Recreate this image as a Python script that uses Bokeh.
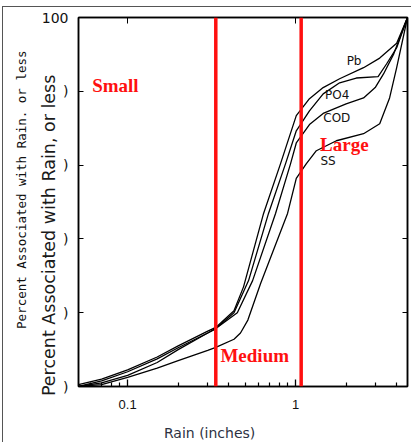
from bokeh.plotting import figure
from bokeh.models import Range1d, FixedTicker, LinearAxis, LogAxis, Label, Span, Title
from bokeh.embed import file_html
from bokeh.resources import INLINE

# ---- data ----
pb_x = [0.051, 0.07, 0.1, 0.15, 0.2, 0.3, 0.335, 0.43, 0.49, 0.645, 0.814, 1.01, 1.21, 1.46, 1.83, 2.54, 3.17, 4.0, 4.64]
pb_y = [0.5, 2, 4.5, 8, 11, 15, 16, 20.5, 27, 46.9, 60.4, 73.4, 78, 81, 83.4, 86.4, 89, 93, 100]

po4_x = [0.051, 0.07, 0.1, 0.15, 0.2, 0.3, 0.335, 0.43, 0.525, 0.69, 0.872, 1.01, 1.21, 1.46, 1.83, 2.3, 3.1, 3.48, 4.0, 4.64]
po4_y = [0, 1.5, 4, 7.5, 10.5, 14.5, 15.7, 20, 28.7, 46.9, 60.4, 69.3, 74.7, 79.3, 82.3, 83.6, 84, 87.4, 91.8, 100]

cod_x = [0.051, 0.07, 0.1, 0.15, 0.2, 0.3, 0.335, 0.45, 0.555, 0.76, 0.934, 1.01, 1.21, 1.46, 2.0, 2.54, 2.98, 3.34, 3.83, 4.64]
cod_y = [0, 1, 3, 6.5, 10, 14.5, 15.7, 20, 28.7, 46.9, 60.4, 66, 71, 74, 76.6, 78.2, 81, 84.7, 90, 100]

ss_x = [0.051, 0.07, 0.1, 0.15, 0.2, 0.3, 0.335, 0.43, 0.47, 0.52, 0.62, 0.896, 1.01, 1.16, 1.33, 1.75, 2.54, 3.17, 3.63, 4.0, 4.64]
ss_y = [0, 0.5, 2.5, 5, 7, 9.8, 10.6, 12.8, 14.5, 18, 28, 46.9, 56.4, 60.4, 63.9, 66.6, 68.5, 71.2, 78.2, 86.4, 100]

series_names = ["Pb", "PO4", "COD", "SS"]
name_pos_x = [2.23, 1.77, 1.76, 1.56]
name_pos_y = [88.2, 79, 72.7, 61]

class_limits = [0.335, 1.08]          # red dividing lines (inches)
class_names = ["Small", "Medium", "Large"]

x_major = [0.1, 1]
x_major_labels = ["0.1", "1"]
x_minor = [0.06, 0.07, 0.08, 0.09, 0.2, 0.3, 0.4, 0.5, 0.6, 0.7, 0.8, 0.9, 2, 3, 4]
y_ticks = [0, 20, 40, 60, 80, 100]
y_tick_labels = [")", ")", ")", ")", ")", "100"]

W, H = 409, 436
p = figure(width=W, height=H, x_axis_type="log",
           x_range=Range1d(0.051, 4.64), y_range=Range1d(0, 100),
           output_backend="svg", toolbar_location=None,
           min_border_left=75, min_border_right=5, min_border_top=10, min_border_bottom=57)
# frame of the scanned picture
p.styles = {"margin-left": "2px", "margin-top": "6px",
            "border-left": "1px solid #555555", "border-top": "1px solid #555555"}
p.grid.visible = False
p.background_fill_color = "white"
p.border_fill_color = "white"
p.outline_line_color = "black"
p.outline_line_width = 1.5

# bottom axis
xa = p.xaxis[0]
xa.ticker = FixedTicker(ticks=x_major, minor_ticks=x_minor)
xa.major_label_overrides = {t: s for t, s in zip(x_major, x_major_labels)}
xa.major_tick_in = 7
xa.major_tick_out = 0
xa.minor_tick_in = 4
xa.minor_tick_out = 0
xa.axis_line_color = "black"
xa.axis_line_width = 1.5
xa.major_tick_line_width = 1.3
xa.minor_tick_line_width = 1.2
xa.major_label_standoff = 13
xa.major_label_text_font = "Liberation Sans"
xa.major_label_text_font_size = "13px"
xa.major_label_text_color = "#111111"
xa.axis_label = "Rain (inches)" + "\u00a0" * 15
xa.axis_label_standoff = 13
xa.axis_label_text_font = "DejaVu Sans"
xa.axis_label_text_font_size = "14px"
xa.axis_label_text_font_style = "normal"
xa.axis_label_text_color = "#2d3142"

# left axis (its title overlaps the tick-label column, as in the scan)
ya = p.yaxis[0]
ya.ticker = FixedTicker(ticks=y_ticks)
ya.major_label_overrides = {t: s for t, s in zip(y_ticks, y_tick_labels)}
ya.minor_tick_line_color = None
ya.major_tick_in = 5
ya.major_tick_out = 0
ya.axis_line_color = "black"
ya.axis_line_width = 1.5
ya.major_label_standoff = 10
ya.major_label_text_font = "DejaVu Sans"
ya.major_label_text_font_size = "14px"
ya.major_label_text_color = "#111111"
ya.axis_label = "Percent Associated with Rain, or less" + "\u00a0" * 12
ya.axis_label_standoff = -20
ya.axis_label_text_font = "DejaVu Sans"
ya.axis_label_text_font_size = "17.5px"
ya.axis_label_text_font_style = "normal"
ya.axis_label_text_color = "#1a1a1a"

# small scanned title at far left (its end 33px below the frame top)
p.add_layout(Title(text="Percent Associated with Rain. or less", align="right", offset=33,
                   standoff=13, text_font="DejaVu Sans Mono", text_font_size="12.5px",
                   text_font_style="normal", text_color="#111111"), "left")

# right axis (inside ticks only)
ra = LinearAxis(ticker=FixedTicker(ticks=y_ticks[1:-1]), major_tick_in=5, major_tick_out=0,
                minor_tick_line_color=None, major_label_text_font_size="1px",
                major_label_text_color=None, major_label_standoff=0,
                axis_line_color="black", axis_line_width=1.5)
p.add_layout(ra, "right")
# top axis (inside ticks only)
ta = LogAxis(ticker=FixedTicker(ticks=x_major), major_tick_in=6, major_tick_out=0,
             minor_tick_line_color=None, major_label_text_font_size="1px",
             major_label_text_color=None, major_label_standoff=0,
             axis_line_color="black", axis_line_width=1.5)
p.add_layout(ta, "above")

# curves
for xs, ys in [(pb_x, pb_y), (po4_x, po4_y), (cod_x, cod_y), (ss_x, ss_y)]:
    p.line(xs, ys, line_color="black", line_width=1.3)

for nm, nx, ny in zip(series_names, name_pos_x, name_pos_y):
    p.add_layout(Label(x=nx, y=ny, text=nm, text_font="DejaVu Sans", text_font_size="12px",
                       text_color="#111111", text_align="center", text_baseline="middle"))

# red class lines
for loc in class_limits:
    p.add_layout(Span(location=loc, dimension="height", line_color="#ff1010", line_width=3.5))

red_pos = [(0.0615, 81.5), (0.357, 8.5), (1.4, 65.5)]
for nm, (lx, ly) in zip(class_names, red_pos):
    p.add_layout(Label(x=lx, y=ly, text=nm, text_font="Liberation Serif", text_font_style="bold",
                       text_font_size="19px", text_color="#ff1010", text_align="left",
                       text_baseline="middle"))

open("out.html", "w").write(file_html(p, INLINE))
